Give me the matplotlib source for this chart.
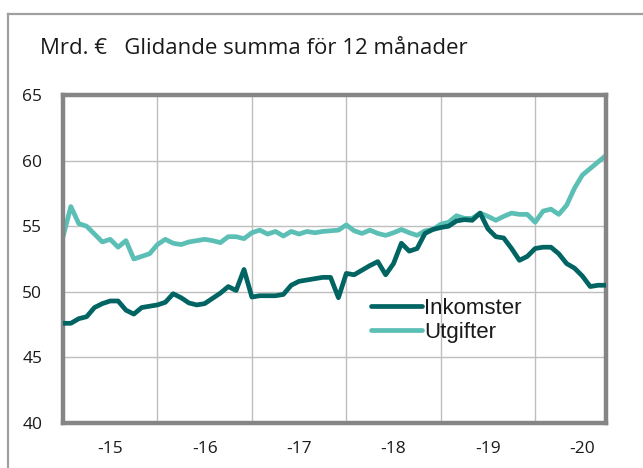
import matplotlib
matplotlib.use("Agg")
import matplotlib.pyplot as plt
from matplotlib.lines import Line2D

# monthly 12-month rolling sums, Jan 2015 .. Oct 2020 (bn EUR)
inkomster = [47.6, 47.6, 47.95, 48.1, 48.8, 49.1, 49.3, 49.3, 48.6, 48.3, 48.8, 48.9,
             49.0, 49.2, 49.85, 49.55, 49.15, 49.0, 49.1, 49.5, 49.9, 50.4, 50.1, 51.7,
             49.6, 49.7, 49.7, 49.7, 49.8, 50.5, 50.8, 50.9, 51.0, 51.1, 51.1, 49.55,
             51.4, 51.3, 51.65, 52.0, 52.3, 51.3, 52.15, 53.7, 53.1, 53.3, 54.45, 54.75,
             54.9, 55.0, 55.4, 55.5, 55.45, 56.0, 54.8, 54.2, 54.1, 53.3, 52.4, 52.7,
             53.3, 53.4, 53.4, 52.9, 52.15, 51.8, 51.2, 50.4, 50.5, 50.5]
utgifter = [54.2, 56.5, 55.2, 55.0, 54.4, 53.8, 54.0, 53.4, 53.9, 52.5, 52.7, 52.9,
            53.6, 54.0, 53.7, 53.6, 53.8, 53.9, 54.0, 53.9, 53.75, 54.2, 54.2, 54.05,
            54.5, 54.7, 54.4, 54.6, 54.25, 54.6, 54.4, 54.6, 54.5, 54.6, 54.65, 54.7,
            55.1, 54.65, 54.45, 54.7, 54.45, 54.3, 54.5, 54.75, 54.5, 54.3, 54.65, 54.75,
            55.15, 55.3, 55.8, 55.6, 55.6, 56.0, 55.75, 55.45, 55.75, 56.0, 55.9, 55.9,
            55.3, 56.15, 56.3, 55.9, 56.6, 57.9, 58.9, 59.4, 59.9, 60.4]
year_labels = ["-15", "-16", "-17", "-18", "-19", "-20"]
y_ticks = [40, 45, 50, 55, 60, 65]

DARK, LIGHT = "#006462", "#5BBFB6"
FRAME, GRID = "#858585", "#BEBEBE"
W, H = 643, 468

fig = plt.figure(figsize=(W / 100, H / 100), dpi=100)
ax = fig.add_axes([63 / W, 1 - 423 / H, (606 - 63) / W, (423 - 95) / H])

months = list(range(len(inkomster)))
ax.plot(months, inkomster, color=DARK, lw=3.4, solid_capstyle="round",
        solid_joinstyle="round", label="Inkomster", zorder=3)
ax.plot(months, utgifter, color=LIGHT, lw=3.4, solid_capstyle="round",
        solid_joinstyle="round", label="Utgifter", zorder=2)

ax.set_xlim(0, len(months) - 1)
ax.set_ylim(y_ticks[0], y_ticks[-1])
ax.set_yticks(y_ticks)
ax.set_xticks([12 * i for i in range(1, len(year_labels))])
ax.set_xticklabels([])
ax.set_xticks([12 * i + 6 for i in range(len(year_labels))], minor=True)
ax.set_xticklabels(year_labels, minor=True)
ax.grid(True, which="major", color=GRID, lw=1.0, zorder=0)
ax.tick_params(which="both", length=0)
ax.tick_params(axis="x", which="minor", pad=13, labelsize=12.5)
ax.tick_params(axis="y", pad=15, labelsize=12.5)
for lab in ax.get_xticklabels(minor=True) + ax.get_yticklabels():
    lab.set_fontfamily("Open Sans")
    lab.set_color("#1A1A1A")
for sp in ax.spines.values():
    sp.set_color(FRAME)
    sp.set_linewidth(3.2)

leg = ax.legend(loc="upper left", bbox_to_anchor=(371 / W, 1 - 298 / H),
                bbox_transform=fig.transFigure, frameon=False,
                prop={"family": ["Liberation Sans", "DejaVu Sans"], "size": 16},
                handlelength=2.3, handletextpad=0.1, labelspacing=0.13,
                borderpad=0, borderaxespad=0)
for t in leg.get_texts():
    t.set_color("#1A1A1A")

# outer frame (only top and left are visible)
fig.add_artist(Line2D([8 / W, 8 / W], [0, 1 - 14 / H], color="#A0A0A0", lw=1.6))
fig.add_artist(Line2D([8 / W, 1], [1 - 14 / H, 1 - 14 / H], color="#A0A0A0", lw=1.6))

fig.text(40 / W, 1 - 49 / H, "Mrd. €   Glidande summa för 12 månader",
         fontsize=16, family="Open Sans", color="#1A1A1A", va="center", ha="left")

fig.savefig("out.png", dpi=100)
